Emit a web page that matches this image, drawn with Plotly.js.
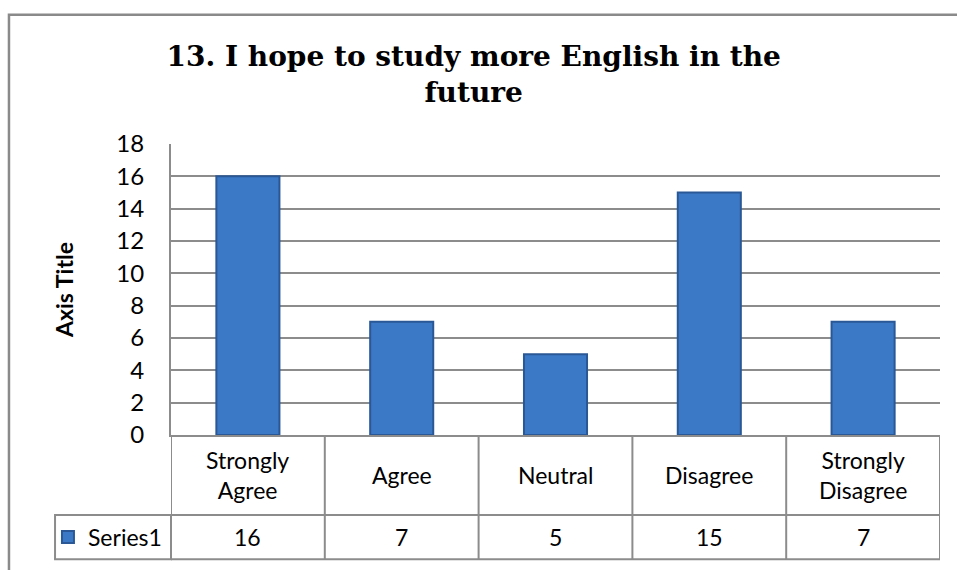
<!DOCTYPE html>
<html>
<head>
<meta charset="utf-8">
<script src="https://cdn.plot.ly/plotly-3.0.1.min.js"></script>
<style>html,body{margin:0;padding:0;background:#fff;}#chart{width:957px;height:570px;}</style>
</head>
<body>
<div id="chart"></div>
<script>
const categories = ["Strongly<br>Agree", "Agree", "Neutral", "Disagree", "Strongly<br>Disagree"];
const values = [16, 7, 5, 15, 7];
const seriesName = "Series1";
const chartTitle = "13. I hope to study more English in the<br>future";
const yTickVals = [0, 2, 4, 6, 8, 10, 12, 14, 16, 18];

const idx = categories.map((c, i) => i);
const grey = "#8c8c8c";
const tableFont = {family: "Lato, 'Noto Sans', sans-serif", size: 23, color: "#000"};

const trace = {
  type: "bar",
  x: idx,
  y: values,
  name: seriesName,
  width: 0.41,
  marker: {color: "#3b78c6", line: {color: "#2a5896", width: 2}},
  hoverinfo: "skip"
};

// table rows in paper coordinates (plot area: y 0 -> 439px, height 295px)
const rowTop = 0, rowMid = -0.2746, rowBot = -0.427;
const shapes = [];
shapes.push({type: "line", xref: "x", yref: "paper", x0: -0.5, x1: 4.5, y0: rowMid, y1: rowMid, line: {color: grey, width: 2}});
shapes.push({type: "line", xref: "x", yref: "paper", x0: -0.5, x1: 4.5, y0: rowBot, y1: rowBot, line: {color: grey, width: 2}});
for (let i = 0; i <= categories.length; i++) {
  shapes.push({type: "line", xref: "x", yref: "paper", x0: i - 0.5, x1: i - 0.5, y0: rowTop, y1: rowBot, line: {color: grey, width: 2}});
}
shapes.push({type: "rect", xref: "paper", yref: "paper", x0: -0.1508, x1: 0, y0: rowBot, y1: rowMid, line: {color: grey, width: 2}});
shapes.push({type: "rect", xref: "paper", yref: "paper", x0: -0.2107, x1: 1.2, y0: -0.8, y1: 1.444, line: {color: "#8a8a8a", width: 2.5}, layer: "below"});

const annotations = [];
categories.forEach((c, i) => {
  annotations.push({xref: "x", yref: "paper", x: i, y: (rowTop + rowMid) / 2, text: c, showarrow: false, font: tableFont, xanchor: "center", yanchor: "middle"});
  annotations.push({xref: "x", yref: "paper", x: i, y: (rowMid + rowBot) / 2, text: String(values[i]), showarrow: false, font: tableFont, xanchor: "center", yanchor: "middle"});
});

const layout = {
  width: 957, height: 570,
  margin: {l: 171, r: 17, t: 144, b: 131},
  paper_bgcolor: "#fff", plot_bgcolor: "#fff",
  title: {
    text: chartTitle,
    font: {family: "'DejaVu Serif', serif", size: 28, color: "#000", weight: "bold"},
    xref: "container", x: 0.495, xanchor: "center",
    yref: "container", y: 0.885, yanchor: "top"
  },
  xaxis: {
    range: [-0.5, 4.5], showticklabels: false, showgrid: false, zeroline: false,
    showline: true, linecolor: grey, linewidth: 2, fixedrange: true
  },
  yaxis: {
    range: [0, 18], tickvals: yTickVals, ticks: "", showgrid: true, gridcolor: grey, gridwidth: 2,
    zeroline: false, showline: true, linecolor: grey, linewidth: 2,
    tickfont: {family: "Lato, sans-serif", size: 24, color: "#000"},
    ticklabelstandoff: 20,
    title: {text: "Axis Title", font: {family: "Lato, sans-serif", size: 23, color: "#000", weight: "bold"}, standoff: 36}
  },
  showlegend: true,
  legend: {
    x: -0.16, xanchor: "left", y: -0.351, yanchor: "middle", yref: "paper",
    font: {family: "Lato, sans-serif", size: 23, color: "#000"},
    bgcolor: "rgba(0,0,0,0)", borderwidth: 0
  },
  bargap: 0,
  shapes: shapes,
  annotations: annotations
};

Plotly.newPlot("chart", [trace], layout, {displayModeBar: false, staticPlot: true});
</script>
</body>
</html>
